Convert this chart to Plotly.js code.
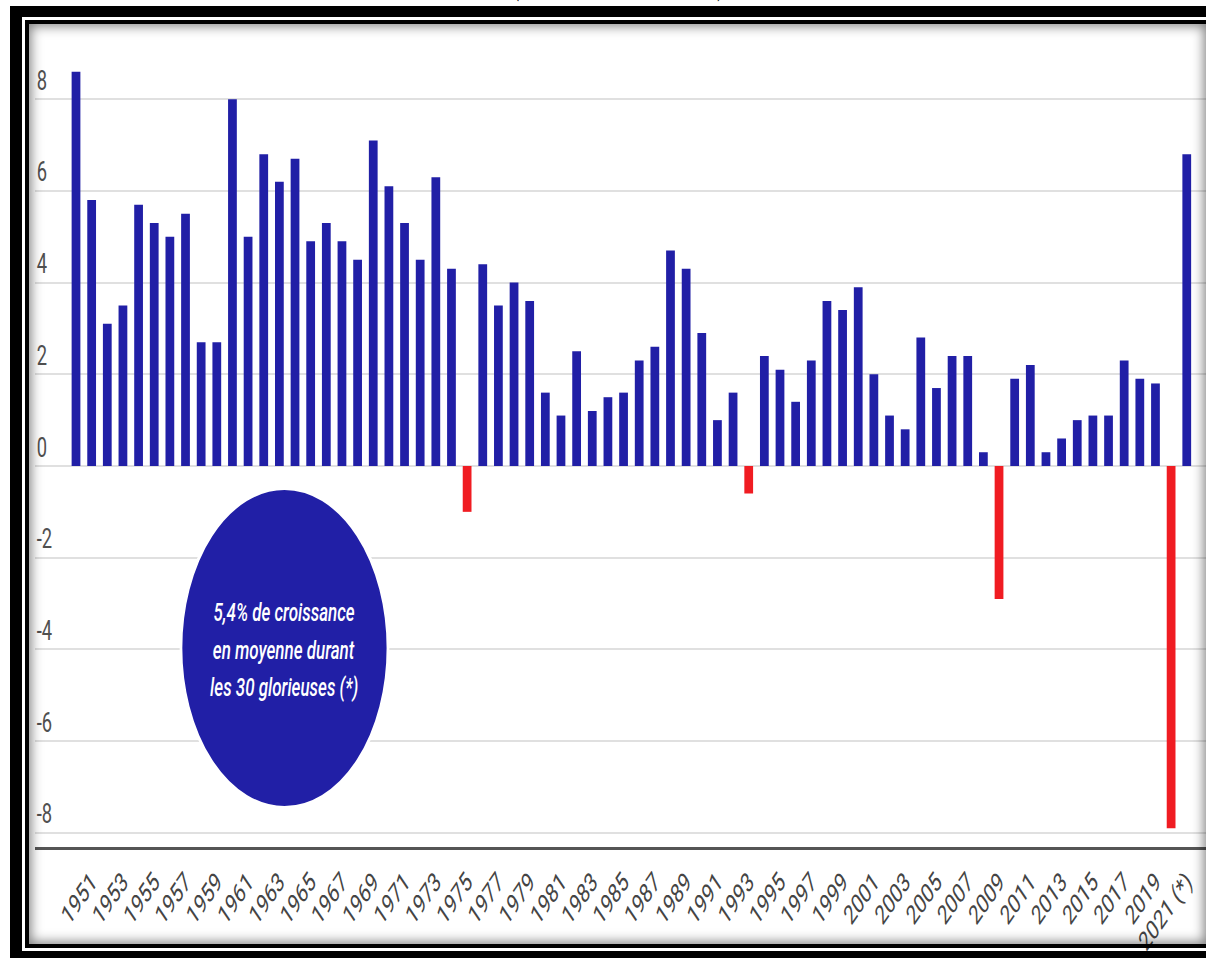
<!DOCTYPE html>
<html>
<head>
<meta charset="utf-8">
<script src="https://cdn.plot.ly/plotly-3.0.1.min.js"></script>
<style>
  html, body { margin: 0; padding: 0; background: #fff; }
  body { width: 1206px; height: 958px; overflow: hidden; position: relative; }
  #chart { position: absolute; left: 0; top: 0; width: 1774px; height: 958px;
           transform: scaleX(0.67982); transform-origin: 0 0; z-index: 1; }
  .frame { position: absolute; box-sizing: border-box; pointer-events: none; z-index: 5; }
  #outer { left: 10px; top: 6px; width: 1300px; height: 1000px;
           border-left: 12px solid #000; border-top: 11px solid #000; }
  #outerBottom { left: 10px; top: 951px; width: 1300px; height: 10px; background: #000; }
  #inner { left: 25px; top: 20px; width: 1185px; height: 928px;
           border: 4px solid #000;
           box-shadow: inset 0 0 12px 2px rgba(0,0,0,0.5); }
</style>
</head>
<body>
<div id="chart"></div>
<div class="frame" id="outer"></div>
<div class="frame" id="outerBottom"></div>
<div class="frame" id="inner"></div>
<script>
// Années
const years = [1950, 1951, 1952, 1953, 1954, 1955, 1956, 1957, 1958, 1959,
               1960, 1961, 1962, 1963, 1964, 1965, 1966, 1967, 1968, 1969,
               1970, 1971, 1972, 1973, 1974, 1975, 1976, 1977, 1978, 1979,
               1980, 1981, 1982, 1983, 1984, 1985, 1986, 1987, 1988, 1989,
               1990, 1991, 1992, 1993, 1994, 1995, 1996, 1997, 1998, 1999,
               2000, 2001, 2002, 2003, 2004, 2005, 2006, 2007, 2008, 2009,
               2010, 2011, 2012, 2013, 2014, 2015, 2016, 2017, 2018, 2019,
               2020, 2021];
// Croissance du PIB (%)
const growth = [8.6, 5.8, 3.1, 3.5, 5.7, 5.3, 5.0, 5.5, 2.7, 2.7,
                8.0, 5.0, 6.8, 6.2, 6.7, 4.9, 5.3, 4.9, 4.5, 7.1,
                6.1, 5.3, 4.5, 6.3, 4.3, -1.0, 4.4, 3.5, 4.0, 3.6,
                1.6, 1.1, 2.5, 1.2, 1.5, 1.6, 2.3, 2.6, 4.7, 4.3,
                2.9, 1.0, 1.6, -0.6, 2.4, 2.1, 1.4, 2.3, 3.6, 3.4,
                3.9, 2.0, 1.1, 0.8, 2.8, 1.7, 2.4, 2.4, 0.3, -2.9,
                1.9, 2.2, 0.3, 0.6, 1.0, 1.1, 1.1, 2.3, 1.9, 1.8,
                -7.9, 6.8];
// Étiquettes de l'axe X
const xTickVals = [1951, 1953, 1955, 1957, 1959, 1961, 1963, 1965, 1967, 1969,
                   1971, 1973, 1975, 1977, 1979, 1981, 1983, 1985, 1987, 1989,
                   1991, 1993, 1995, 1997, 1999, 2001, 2003, 2005, 2007, 2009,
                   2011, 2013, 2015, 2017, 2019, 2021];
const xTickText = ['1951', '1953', '1955', '1957', '1959', '1961', '1963', '1965', '1967', '1969',
                   '1971', '1973', '1975', '1977', '1979', '1981', '1983', '1985', '1987', '1989',
                   '1991', '1993', '1995', '1997', '1999', '2001', '2003', '2005', '2007', '2009',
                   '2011', '2013', '2015', '2017', '2019', '2021 (*)'];
// Étiquettes de l'axe Y
const yTickVals = [-8, -6, -4, -2, 0, 2, 4, 6, 8];
const yTickText = ['-8', '-6', '-4', '-2', '0', '2', '4', '6', '8'];
// Encadré
const noteLines = ['5,4% de croissance', 'en moyenne durant', 'les 30 glorieuses (*)'];
const titleText = '(en %, 1950-2021)';

const BLUE = '#211fa6';
const RED = '#f01c22';
const barColors = growth.map(v => v < 0 ? RED : BLUE);

const trace = {
  type: 'bar',
  x: years,
  y: growth,
  marker: { color: barColors, line: { width: 0 } },
  hoverinfo: 'skip'
};

const noteY = [-3.2, -4.03, -4.83];
const annotations = noteLines.map((t, i) => ({
  xref: 'x', yref: 'y', x: 1963.3, y: noteY[i],
  text: t, showarrow: false,
  font: { family: 'Roboto', size: 25, color: '#ffffff', style: 'italic', weight: 500 },
  xanchor: 'center', yanchor: 'middle'
}));
annotations.push({
  xref: 'paper', yref: 'paper', x: 0.498, y: 1.0385,
  text: titleText, showarrow: false,
  font: { family: 'Roboto', size: 40, color: '#000' },
  xanchor: 'center', yanchor: 'bottom'
});

const layout = {
  width: 1774, height: 958,
  margin: { l: 51, r: 0, t: 35, b: 111, pad: 0 },
  paper_bgcolor: 'rgba(0,0,0,0)',
  plot_bgcolor: 'rgba(0,0,0,0)',
  font: { family: 'Roboto', color: '#555' },
  showlegend: false,
  bargap: 0.44,
  xaxis: {
    range: [1947.358, 2022.23],
    tickmode: 'array', tickvals: xTickVals, ticktext: xTickText,
    tickangle: -45,
    tickfont: { family: 'Roboto', size: 27, color: '#444' },
    showgrid: false, zeroline: false,
    showline: true, linecolor: '#555', linewidth: 3,
    ticks: '', ticklabelstandoff: 5
  },
  yaxis: {
    range: [-8.31, 9.40],
    tickmode: 'array', tickvals: yTickVals, ticktext: yTickText,
    ticklabelposition: 'inside top',
    tickfont: { family: 'Roboto', size: 27, color: '#505050' },
    showgrid: true, gridcolor: '#e0e0e0', gridwidth: 2,
    zeroline: false, showline: false, ticks: ''
  },
  shapes: [{
    type: 'circle', xref: 'x', yref: 'y', layer: 'above',
    x0: 1956.71, x1: 1969.94, y0: -0.48, y1: -7.46,
    fillcolor: BLUE, line: { color: '#ffffff', width: 4 }
  }],
  annotations: annotations
};

Plotly.newPlot('chart', [trace], layout, { staticPlot: true, displayModeBar: false });
</script>
</body>
</html>
